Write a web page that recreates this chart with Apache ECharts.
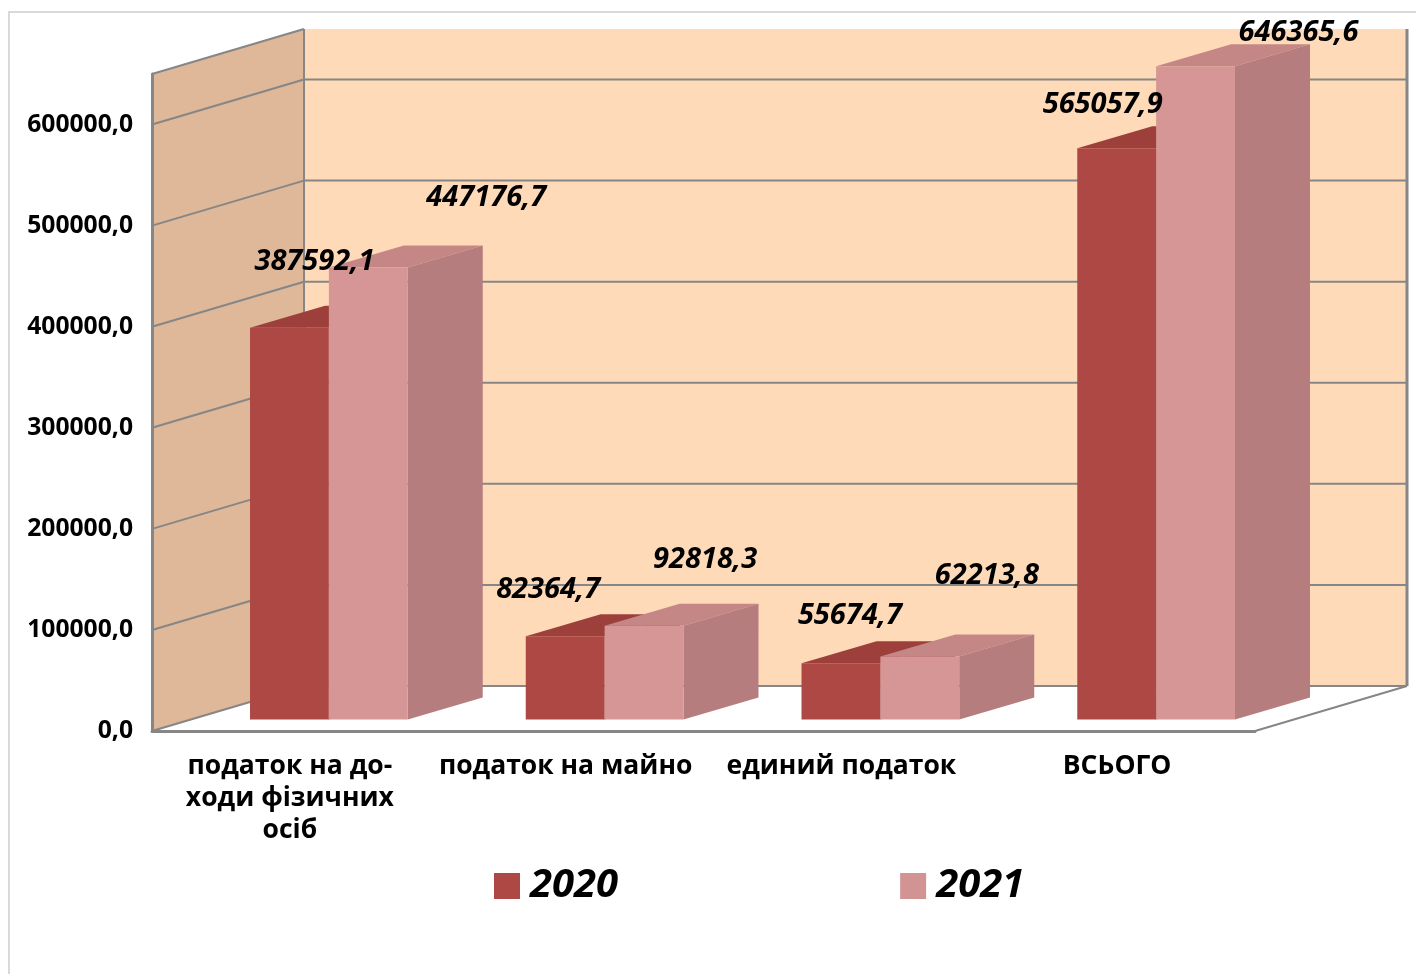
<!DOCTYPE html>
<html>
<head>
<meta charset="utf-8">
<title>chart</title>
<script src="https://cdn.jsdelivr.net/npm/echarts@6/dist/echarts.min.js"></script>
<style>
  html, body { margin: 0; padding: 0; background: #fff; }
  #chart { width: 1416px; height: 974px; }
</style>
</head>
<body>
<div id="chart"></div>
<script>
const categories = ['податок на до-\nходи фізичних\nосіб', 'податок на майно', 'единий податок', 'ВСЬОГО'];
const values2020 = [387592.1, 82364.7, 55674.7, 565057.9];
const values2021 = [447176.7, 92818.3, 62213.8, 646365.6];
const yTicks = [0, 100000, 200000, 300000, 400000, 500000, 600000];
const axisMax = 650000;

// hand placed labels, the original has them scattered: [dx, dy] from bar top centre
const labelShift2020 = [[25, -66], [-17, -47], [9, -47], [-14, -44]];
const labelShift2021 = [[118, -70], [61, -66], [67, -81], [103, -33]];

const FONT = '"Open Sans", sans-serif';
const LINE = '#868686';

// 3d look
const WALL_DX = 152;
const WALL_DY = 45;
const BAR_SHIFT_X = 39;
const BAR_SHIFT_Y = 11.5;
const BAR_DX = 75;
const BAR_DY = 22;
const BAR_RATIO = 0.286;

const poly = (points, fill, extra) => ({
  type: 'polygon',
  shape: { points },
  style: Object.assign({ fill }, extra || {})
});

const seg = (x1, y1, x2, y2, width) => ({
  type: 'line',
  shape: { x1, y1, x2, y2 },
  style: { stroke: LINE, lineWidth: width || 2 }
});

function renderWalls(params, api) {
  const c = params.coordSys;
  const left = c.x;
  const right = c.x + c.width;
  const top = c.y;
  const bottom = c.y + c.height;
  const bx = left + WALL_DX;
  const ex = right + WALL_DX;
  const children = [
    poly([[bx, top - WALL_DY], [ex, top - WALL_DY], [ex, bottom - WALL_DY], [bx, bottom - WALL_DY]], '#FFDAB9'),
    poly([[left, top], [bx, top - WALL_DY], [bx, bottom - WALL_DY], [left, bottom]], '#DEB899')
  ];
  yTicks.forEach(t => {
    const y = api.coord([0, t])[1];
    children.push(seg(left, y, bx, y - WALL_DY));
    children.push(seg(bx, y - WALL_DY, ex, y - WALL_DY));
  });
  children.push(seg(left, top, bx, top - WALL_DY));
  children.push(seg(bx, top - WALL_DY, bx, bottom - WALL_DY));
  children.push(seg(ex, top - WALL_DY, ex, bottom - WALL_DY, 3));
  children.push(seg(right, bottom, ex, bottom - WALL_DY));
  return { type: 'group', children };
}

function barRenderer(side, colors) {
  return function (params, api) {
    const i = api.value(0);
    const base = api.coord([i, 0]);
    const topPt = api.coord([i, api.value(1)]);
    const w = api.size([1, 0])[0] * BAR_RATIO;
    const x1 = base[0] + BAR_SHIFT_X + (side === 0 ? -w : 0);
    const x2 = x1 + w;
    const y1 = topPt[1] - BAR_SHIFT_Y;
    const y2 = base[1] - BAR_SHIFT_Y;
    return {
      type: 'group',
      children: [
        poly([[x1, y1], [x1 + BAR_DX, y1 - BAR_DY], [x2 + BAR_DX, y1 - BAR_DY], [x2, y1]], colors.top),
        poly([[x2, y1], [x2 + BAR_DX, y1 - BAR_DY], [x2 + BAR_DX, y2 - BAR_DY], [x2, y2]], colors.side),
        poly([[x1, y1], [x2, y1], [x2, y2], [x1, y2]], colors.front)
      ]
    };
  };
}

function labelRenderer(side, shifts) {
  return function (params, api) {
    const i = api.value(0);
    const v = api.value(1);
    const p = api.coord([i, v]);
    const w = api.size([1, 0])[0] * BAR_RATIO;
    const cx = p[0] + BAR_SHIFT_X + (side === 0 ? -w / 2 : w / 2);
    return {
      type: 'text',
      x: cx + shifts[i][0],
      y: p[1] - BAR_SHIFT_Y + shifts[i][1],
      style: {
        text: v.toFixed(1).replace('.', ','),
        fill: '#000',
        font: 'italic bold 29px ' + FONT,
        align: 'center',
        verticalAlign: 'middle'
      }
    };
  };
}

const toPairs = arr => arr.map((v, i) => [i, v]);

const chart = echarts.init(document.getElementById('chart'));

chart.setOption({
  animation: false,
  backgroundColor: '#fff',
  graphic: [{
    type: 'polyline',
    shape: { points: [[9, 974], [9, 12], [1416, 12]] },
    style: { stroke: '#D9D9D9', lineWidth: 2, fill: null },
    silent: true
  }],
  grid: { left: 152, right: 161, top: 74, bottom: 243, containLabel: false },
  legend: {
    left: 489,
    top: 861,
    itemWidth: 26,
    itemHeight: 26,
    itemGap: 282,
    data: [
      { name: '2020', icon: 'rect', itemStyle: { color: '#AE4844' } },
      { name: '2021', icon: 'rect', itemStyle: { color: '#D19493' } }
    ],
    textStyle: {
      color: '#000',
      fontFamily: FONT,
      fontSize: 40,
      fontWeight: 'bold',
      fontStyle: 'italic',
      padding: [0, 0, 0, 5]
    }
  },
  xAxis: {
    type: 'category',
    data: categories,
    z: 10,
    axisLine: { lineStyle: { color: LINE, width: 3 } },
    axisTick: { show: false },
    axisLabel: {
      interval: 0,
      margin: 19,
      color: '#000',
      fontFamily: FONT,
      fontSize: 26.5,
      fontWeight: 'bold',
      lineHeight: 32
    }
  },
  yAxis: {
    type: 'value',
    min: 0,
    max: axisMax,
    interval: 100000,
    z: 10,
    axisLine: { show: true, lineStyle: { color: LINE, width: 3 } },
    axisTick: { show: false },
    splitLine: { show: false },
    axisLabel: {
      margin: 19,
      showMaxLabel: false,
      color: '#000',
      fontFamily: FONT,
      fontSize: 24.7,
      fontWeight: 'bold',
      padding: [2, 0, 0, 0],
      formatter: v => v.toFixed(1).replace('.', ',')
    }
  },
  series: [
    {
      name: 'walls',
      type: 'custom',
      z: 1,
      silent: true,
      clip: false,
      renderItem: renderWalls,
      data: [[0, 0]],
      encode: { x: 0, y: 1 }
    },
    {
      name: '2020',
      type: 'custom',
      z: 2,
      clip: false,
      itemStyle: { color: '#AE4844' },
      renderItem: barRenderer(0, { front: '#AE4844', top: '#9D403C', side: '#9D403C' }),
      data: toPairs(values2020),
      encode: { x: 0, y: 1 }
    },
    {
      name: '2021',
      type: 'custom',
      z: 3,
      clip: false,
      itemStyle: { color: '#D69695' },
      renderItem: barRenderer(1, { front: '#D69695', top: '#C58785', side: '#B57D7D' }),
      data: toPairs(values2021),
      encode: { x: 0, y: 1 }
    },
    {
      name: 'labels 2020',
      type: 'custom',
      z: 5,
      silent: true,
      clip: false,
      renderItem: labelRenderer(0, labelShift2020),
      data: toPairs(values2020),
      encode: { x: 0, y: 1 }
    },
    {
      name: 'labels 2021',
      type: 'custom',
      z: 5,
      silent: true,
      clip: false,
      renderItem: labelRenderer(1, labelShift2021),
      data: toPairs(values2021),
      encode: { x: 0, y: 1 }
    }
  ]
});

window.addEventListener('resize', () => chart.resize());
</script>
</body>
</html>
